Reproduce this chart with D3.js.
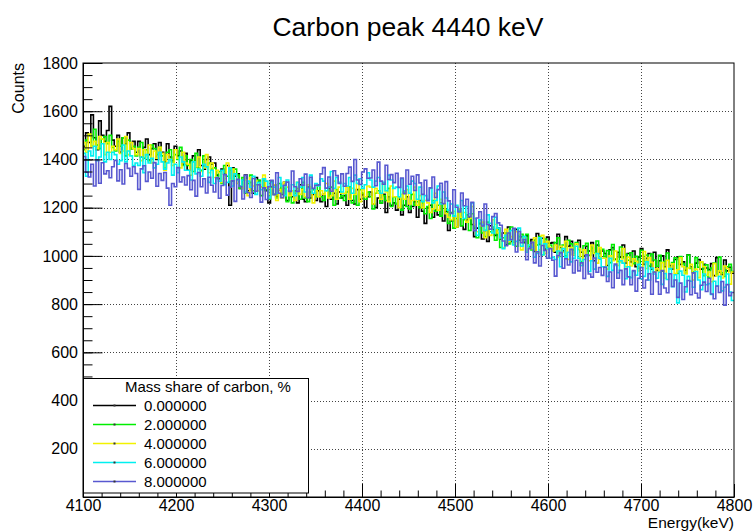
<!DOCTYPE html>
<html>
<head>
<meta charset="utf-8">
<script src="https://cdn.jsdelivr.net/npm/d3@7"></script>
<style>
  html, body { margin: 0; padding: 0; background: #fff; }
  svg { display: block; font-family: "Liberation Sans", Arial, Helvetica, sans-serif; }
</style>
</head>
<body>
<svg id="chart" width="753" height="531"></svg>
<script>
// Energy axis (keV) and count axis
const energyRange = [4100, 4800];
const countRange = [0, 1800];
const energyTicks = [4100, 4200, 4300, 4400, 4500, 4600, 4700, 4800];
const countTicks = [200, 400, 600, 800, 1000, 1200, 1400, 1600, 1800];

const chartTitle = "Carbon peak 4440 keV";
const xTitle = "Energy(keV)";
const yTitle = "Counts";
const legendTitle = "Mass share of carbon, %";
const carbonShares = ["0.000000", "2.000000", "4.000000", "6.000000", "8.000000"];

// Spectrum counts per bin, 250 equal bins over the energy range
const counts0 = [
  1455,1510,1470,1585,1490,1440,1560,1500,1475,1520,
  1620,1480,1455,1500,1430,1490,1465,1510,1445,1475,
  1430,1475,1410,1450,1485,1420,1445,1465,1400,1470,
  1430,1390,1465,1410,1395,1455,1415,1435,1380,1425,
  1355,1395,1415,1370,1440,1375,1360,1400,1410,1380,
  1385,1335,1320,1360,1340,1375,1210,1365,1330,1340,
  1280,1315,1335,1270,1305,1260,1325,1310,1285,1315,
  1270,1220,1285,1295,1245,1275,1255,1305,1230,1270,
  1245,1270,1220,1295,1235,1225,1285,1240,1255,1230,
  1270,1225,1255,1205,1280,1235,1260,1215,1265,1240,
  1250,1210,1285,1230,1215,1275,1235,1255,1200,1245,
  1265,1215,1200,1240,1220,1255,1180,1245,1210,1220,
  1190,1235,1170,1210,1245,1180,1205,1225,1160,1230,
  1185,1135,1200,1210,1160,1190,1170,1220,1145,1185,
  1105,1145,1165,1120,1190,1125,1110,1150,1160,1130,
  1080,1115,1135,1070,1105,1060,1125,1110,1085,1115,
  1070,1095,1045,1120,1060,1050,1110,1065,1080,1055,
  1083,1038,1068,1018,1093,1048,1073,1028,1078,1053,
  1055,1015,1090,1035,1020,1080,1040,1060,1005,1050,
  1065,1015,1000,1040,1020,1055,980,1045,1010,1020,
  1010,960,1025,1035,985,1015,995,1045,970,1010,
  975,1020,955,995,1030,965,990,1010,945,1015,
  940,980,1000,955,1025,960,945,985,995,965,
  975,940,1005,955,930,970,985,945,965,950,
  943,968,918,993,933,923,983,938,953,928
];
const counts2 = [
  1440,1480,1500,1455,1525,1460,1445,1485,1495,1465,
  1500,1450,1435,1475,1455,1490,1415,1480,1445,1455,
  1415,1450,1470,1405,1440,1395,1460,1445,1420,1450,
  1415,1365,1430,1440,1390,1420,1400,1450,1375,1415,
  1375,1400,1350,1425,1365,1355,1415,1370,1385,1360,
  1365,1320,1350,1300,1375,1330,1355,1310,1360,1335,
  1280,1325,1260,1300,1335,1270,1295,1315,1250,1320,
  1275,1235,1310,1255,1240,1300,1260,1280,1225,1270,
  1220,1260,1280,1235,1305,1240,1225,1265,1275,1245,
  1295,1245,1230,1270,1250,1285,1210,1275,1240,1250,
  1230,1265,1285,1220,1255,1210,1275,1260,1235,1265,
  1245,1195,1260,1270,1220,1250,1230,1280,1205,1245,
  1215,1240,1190,1265,1205,1195,1255,1210,1225,1200,
  1220,1175,1205,1155,1230,1185,1210,1165,1215,1190,
  1135,1180,1115,1155,1190,1125,1150,1170,1105,1175,
  1115,1075,1150,1095,1080,1140,1100,1120,1065,1110,
  1035,1075,1095,1050,1120,1055,1040,1080,1090,1060,
  1090,1040,1025,1065,1045,1080,1005,1070,1035,1045,
  1020,1055,1075,1010,1045,1000,1065,1050,1025,1055,
  1027,977,1042,1052,1002,1032,1012,1062,987,1027,
  997,1022,972,1047,987,977,1037,992,1007,982,
  1013,968,998,948,1023,978,1003,958,1008,983,
  957,1002,937,977,1012,947,972,992,927,997,
  968,928,1003,948,933,993,953,973,918,963,
  910,950,970,925,995,930,915,955,965,935
];
const counts4 = [
  1470,1430,1505,1455,1475,1445,1495,1485,1420,1470,
  1430,1455,1440,1485,1425,1435,1495,1420,1470,1445,
  1420,1445,1395,1440,1415,1460,1385,1435,1405,1450,
  1425,1355,1420,1400,1375,1440,1405,1365,1430,1385,
  1380,1335,1390,1370,1410,1350,1365,1420,1345,1385,
  1325,1355,1345,1305,1320,1385,1315,1360,1340,1300,
  1290,1280,1315,1250,1325,1290,1310,1270,1285,1335,
  1285,1255,1280,1295,1230,1275,1240,1305,1285,1250,
  1270,1230,1305,1255,1275,1245,1295,1285,1220,1270,
  1245,1270,1255,1300,1240,1250,1310,1235,1285,1260,
  1260,1285,1235,1280,1255,1300,1225,1275,1245,1290,
  1285,1215,1280,1260,1235,1300,1265,1225,1290,1245,
  1245,1200,1255,1235,1275,1215,1230,1285,1210,1250,
  1200,1230,1220,1180,1195,1260,1190,1235,1215,1175,
  1160,1150,1185,1120,1195,1160,1180,1140,1155,1205,
  1130,1100,1125,1140,1075,1120,1085,1150,1130,1095,
  1075,1035,1110,1060,1080,1050,1100,1090,1025,1075,
  1020,1045,1030,1075,1015,1025,1085,1010,1060,1035,
  1020,1045,995,1040,1015,1060,985,1035,1005,1050,
  1030,960,1025,1005,980,1045,1010,970,1035,990,
  990,945,1000,980,1020,960,975,1030,955,995,
  958,988,978,938,953,1018,948,993,973,933,
  947,937,972,907,982,947,967,927,942,992,
  955,925,950,965,900,945,910,975,955,920,
  933,893,968,918,938,908,958,948,883,933
];
const counts6 = [
  1425,1330,1435,1415,1455,1395,1410,1465,1390,1430,
  1400,1430,1420,1380,1395,1460,1390,1435,1415,1375,
  1385,1375,1410,1345,1420,1385,1405,1365,1380,1430,
  1390,1360,1385,1400,1335,1380,1345,1410,1390,1355,
  1355,1315,1390,1340,1360,1330,1380,1370,1305,1355,
  1300,1325,1310,1355,1295,1305,1365,1290,1340,1315,
  1290,1315,1265,1310,1285,1330,1255,1305,1275,1320,
  1310,1240,1305,1285,1260,1325,1290,1250,1315,1270,
  1295,1250,1305,1285,1325,1265,1280,1335,1260,1300,
  1290,1320,1310,1270,1285,1350,1280,1325,1305,1265,
  1300,1290,1325,1260,1335,1300,1320,1280,1295,1345,
  1315,1285,1310,1325,1260,1305,1270,1335,1315,1280,
  1285,1245,1320,1270,1290,1260,1310,1300,1235,1285,
  1225,1250,1235,1280,1220,1230,1290,1215,1265,1240,
  1190,1215,1165,1210,1185,1230,1155,1205,1175,1220,
  1155,1085,1150,1130,1105,1170,1135,1095,1160,1115,
  1075,1030,1085,1065,1105,1045,1060,1115,1040,1080,
  1015,1045,1035,995,1010,1075,1005,1050,1030,990,
  995,985,1020,955,1030,995,1015,975,990,1040,
  990,960,985,1000,935,980,945,1010,990,955,
  955,915,990,940,960,930,980,970,905,955,
  910,935,920,965,905,915,975,900,950,925,
  907,932,882,927,902,947,872,922,805,937,
  920,850,915,895,870,935,900,860,925,880,
  885,840,895,875,915,855,870,925,850,815
];
const counts8 = [
  1412,1347,1327,1380,1290,1399,1301,1386,1340,1353,
  1324,1370,1396,1311,1357,1298,1383,1363,1330,1370,
  1342,1276,1361,1374,1309,1348,1322,1387,1289,1342,
  1313,1346,1281,1210,1300,1287,1366,1307,1327,1294,
  1333,1274,1313,1248,1346,1287,1320,1261,1326,1293,
  1265,1324,1239,1292,1337,1252,1285,1311,1226,1318,
  1288,1236,1334,1262,1242,1321,1268,1295,1223,1282,
  1234,1287,1313,1254,1345,1260,1241,1293,1306,1267,
  1352,1287,1267,1320,1293,1339,1241,1326,1280,1293,
  1294,1340,1366,1281,1327,1268,1353,1333,1300,1340,
  1289,1342,1368,1309,1400,1315,1296,1348,1361,1322,
  1323,1356,1291,1389,1310,1297,1376,1317,1337,1304,
  1343,1284,1323,1258,1356,1297,1330,1271,1336,1303,
  1255,1314,1229,1282,1327,1242,1275,1301,1216,1308,
  1228,1176,1274,1202,1182,1261,1208,1235,1163,1222,
  1104,1157,1183,1124,1215,1130,1111,1163,1176,1137,
  1127,1062,1042,1095,1068,1114,1016,1101,1055,1068,
  984,1030,1056,971,1017,958,1043,1023,990,1030,
  982,916,1001,1014,949,988,962,1027,929,982,
  938,971,906,1004,925,912,991,932,952,919,
  953,894,933,868,966,907,940,881,946,913,
  880,939,854,907,952,867,900,926,841,933,
  893,841,939,867,847,926,873,900,828,887,
  819,872,898,839,930,845,826,878,891,852,
  907,842,822,875,848,894,796,881,835,848
];

const spectra = [counts0, counts2, counts4, counts6, counts8];
const lineColors = ["#000000", "#00ee00", "#f2f200", "#00f0f0", "#5858d0"];

const svg = d3.select("#chart");
const plot = { left: 83, right: 734, top: 63, bottom: 497 };

const x = d3.scaleLinear().domain(energyRange).range([plot.left, plot.right]);
const y = d3.scaleLinear().domain(countRange).range([plot.bottom, plot.top]);

// Title
svg.append("text")
  .attr("x", 408).attr("y", 36)
  .attr("text-anchor", "middle")
  .attr("font-size", 26.5)
  .text(chartTitle);

// Dotted grid at the major ticks
const grid = svg.append("g").attr("stroke", "#444").attr("stroke-width", 1)
  .attr("stroke-dasharray", "1,2");
energyTicks.slice(1, -1).forEach(e => {
  grid.append("line")
    .attr("x1", Math.round(x(e)) + 0.5).attr("x2", Math.round(x(e)) + 0.5)
    .attr("y1", plot.top).attr("y2", plot.bottom);
});
countTicks.slice(0, -1).forEach(c => {
  grid.append("line")
    .attr("x1", plot.left).attr("x2", plot.right)
    .attr("y1", Math.round(y(c)) + 0.5).attr("y2", Math.round(y(c)) + 0.5);
});

// Step histograms
svg.append("clipPath").attr("id", "plotClip")
  .append("rect")
  .attr("x", plot.left).attr("y", plot.top)
  .attr("width", plot.right - plot.left).attr("height", plot.bottom - plot.top);

const line = d3.line().x(d => x(d[0])).y(d => y(d[1]));
const hist = svg.append("g").attr("clip-path", "url(#plotClip)");
spectra.forEach((counts, s) => {
  const width = (energyRange[1] - energyRange[0]) / counts.length;
  const pts = [];
  counts.forEach((c, i) => {
    const e0 = energyRange[0] + i * width;
    pts.push([e0, c], [e0 + width, c]);
  });
  hist.append("path")
    .attr("d", line(pts))
    .attr("fill", "none")
    .attr("stroke", lineColors[s])
    .attr("stroke-width", 1.6);
});

// Axes with inward ticks
const xMinor = d3.range(energyRange[0], energyRange[1] + 1, 20);
const yMinor = d3.range(countRange[0], countRange[1] + 1, 50);

svg.append("g").attr("transform", `translate(0,${plot.bottom})`)
  .call(d3.axisBottom(x).tickValues(xMinor).tickSizeInner(-6.5).tickSizeOuter(0).tickFormat(""))
  .call(g => g.select(".domain").remove());
svg.append("g").attr("transform", `translate(${plot.left},0)`)
  .call(d3.axisLeft(y).tickValues(yMinor).tickSizeInner(-9.5).tickSizeOuter(0).tickFormat(""))
  .call(g => g.select(".domain").remove());

const xAxis = svg.append("g").attr("transform", `translate(0,${plot.bottom})`)
  .call(d3.axisBottom(x).tickValues(energyTicks).tickSizeInner(-13).tickSizeOuter(0)
    .tickPadding(3).tickFormat(d3.format("d")));
xAxis.selectAll("text").attr("font-size", 16).attr("fill", "#000")
  .attr("font-family", "Liberation Sans, Arial, sans-serif");

const yAxis = svg.append("g").attr("transform", `translate(${plot.left},0)`)
  .call(d3.axisLeft(y).tickValues(countTicks).tickSizeInner(-19.5).tickSizeOuter(0)
    .tickPadding(5).tickFormat(d3.format("d")));
yAxis.selectAll("text").attr("font-size", 16).attr("fill", "#000")
  .attr("font-family", "Liberation Sans, Arial, sans-serif");

// Frame
svg.append("rect")
  .attr("x", plot.left).attr("y", plot.top)
  .attr("width", plot.right - plot.left).attr("height", plot.bottom - plot.top)
  .attr("fill", "none").attr("stroke", "#000").attr("stroke-width", 1);

// Axis titles
svg.append("text")
  .attr("x", plot.right).attr("y", 528)
  .attr("text-anchor", "end").attr("font-size", 15.5)
  .text(xTitle);
svg.append("text")
  .attr("transform", `translate(24,${plot.top}) rotate(-90)`)
  .attr("text-anchor", "end").attr("font-size", 16)
  .text(yTitle);

// Legend
const legend = svg.append("g");
legend.append("rect")
  .attr("x", 83.5).attr("y", 378.5).attr("width", 225).attr("height", 114.5)
  .attr("fill", "#fff").attr("stroke", "#000").attr("stroke-width", 1);
legend.append("text")
  .attr("x", 208).attr("y", 392).attr("text-anchor", "middle")
  .attr("font-size", 15)
  .text(legendTitle);
carbonShares.forEach((label, i) => {
  const cy = 405.5 + i * 19;
  legend.append("line")
    .attr("x1", 93).attr("x2", 136).attr("y1", cy).attr("y2", cy)
    .attr("stroke", lineColors[i]).attr("stroke-width", 1.5);
  legend.append("rect")
    .attr("x", 113.5).attr("y", cy - 1).attr("width", 2).attr("height", 2)
    .attr("fill", "#333");
  legend.append("text")
    .attr("x", 144).attr("y", cy + 5.5)
    .attr("font-size", 15)
    .text(label);
});
</script>
</body>
</html>
